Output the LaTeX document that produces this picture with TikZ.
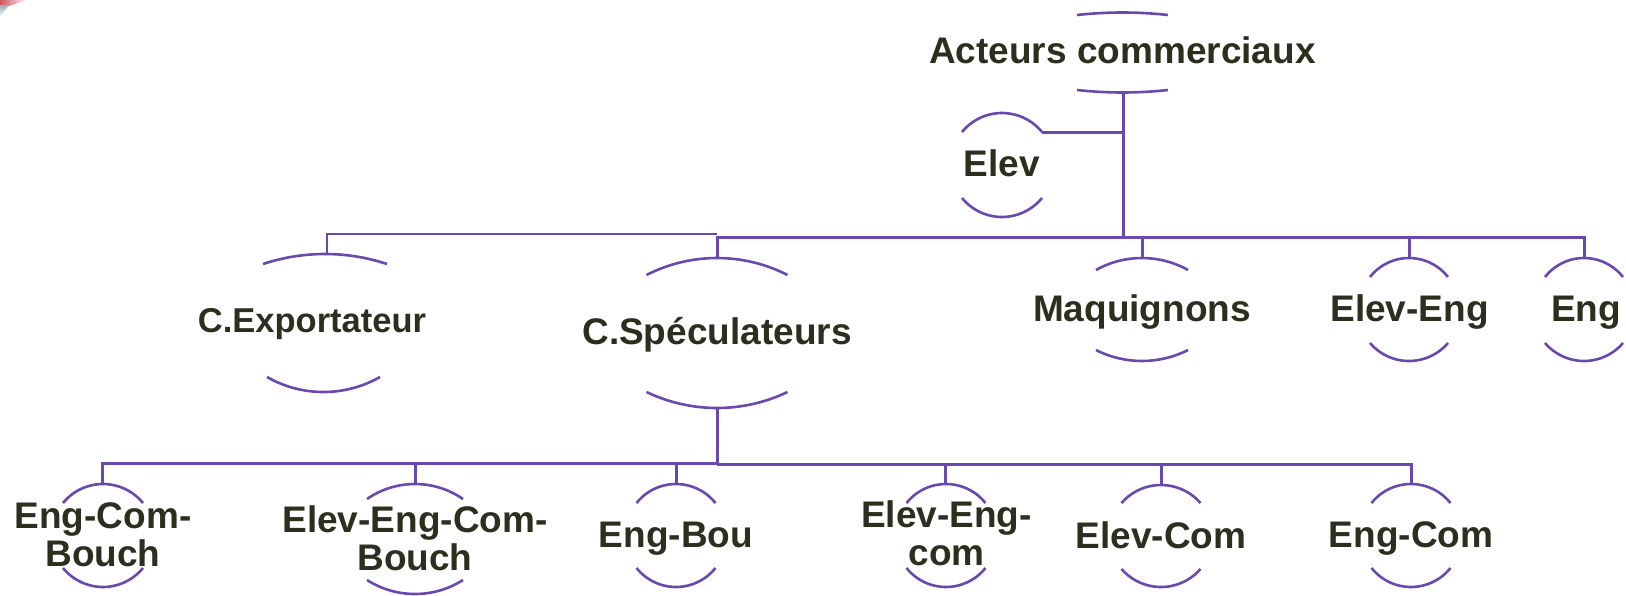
\documentclass[tikz,border=0pt]{standalone}
\usepackage{fontspec}
\setmainfont{Liberation Sans}
\definecolor{purp}{RGB}{106,72,176}
\definecolor{txt}{RGB}{46,46,30}
\newcommand\uparc[4]{%
  \pgfmathsetmacro\arcR{((#3)*(#3)+(#4)*(#4))/(2*(#4))}%
  \pgfmathsetmacro\arcA{asin((#3)/\arcR)}%
  \draw[arcline] (#1-#3,-#2-#4) arc[start angle=90+\arcA, end angle=90-\arcA, radius=\arcR];}
\newcommand\downarc[4]{%
  \pgfmathsetmacro\arcR{((#3)*(#3)+(#4)*(#4))/(2*(#4))}%
  \pgfmathsetmacro\arcA{asin((#3)/\arcR)}%
  \draw[arcline] (#1-#3,-#2+#4) arc[start angle=270-\arcA, end angle=270+\arcA, radius=\arcR];}
\newcommand\twolines[2]{\begin{tabular}[t]{@{}c@{}}#1\\#2\end{tabular}}
\begin{document}
\begin{tikzpicture}[x=1pt,y=1pt,
  arcline/.style={draw=purp, line width=2.6pt},
  conn/.style={draw=purp, line width=3pt},
  thinconn/.style={draw=purp, line width=2pt},
  lbl/.style={inner sep=0pt, anchor=base, text=txt, font=\fontsize{37}{38}\selectfont\bfseries},
  smalllbl/.style={lbl, font=\fontsize{34.5}{36}\selectfont\bfseries}]
\useasboundingbox (0,0) rectangle (1626,-595);
\fill[white] (0,0) rectangle (1626,-595);
% corner artefact
\shade[left color={rgb,255:red,205;green,85;blue,95}, right color=white] (0,0) -- (28,0) -- (0,-9) -- cycle;
\shade[top color={rgb,255:red,150;green,175;blue,180}, bottom color=white] (0,-5) -- (9,-5) -- (0,-17) -- cycle;

% ---- labels ----
\node[lbl] (act) at (1122.5,-63) {Acteurs commerciaux};
\node[lbl] (elev) at (1002,-176) {Elev};
\node[smalllbl] (exp) at (312,-332) {C.Exportateur};
\node[lbl] (spec) at (717,-344) {C.Spéculateurs};
\node[lbl] (maq) at (1142,-321) {Maquignons};
\node[lbl] (eleveng) at (1409.5,-321) {Elev-Eng};
\node[lbl] (eng) at (1586,-321) {Eng};
\node[lbl] (ecb) at (103,-528) {\twolines{Eng-Com-}{Bouch}};
\node[lbl] (eecb) at (415,-532) {\twolines{Elev-Eng-Com-}{Bouch}};
\node[lbl] (ebou) at (676,-547) {Eng-Bou};
\node[lbl] (eec) at (946.5,-527) {\twolines{Elev-Eng-}{com}};
\node[lbl] (ecom) at (1161,-548) {Elev-Com};
\node[lbl] (engcom) at (1411,-547) {Eng-Com};

% ---- arcs ----
\uparc{1122.5}{12.5}{45.5}{2.5}   \downarc{1122.5}{92.5}{45.5}{2.5}
\uparc{1002}{113}{40}{19}         \downarc{1002}{217}{40}{19}
\uparc{325}{254}{62}{10}          \downarc{323.5}{392}{56.5}{15}
\uparc{717}{258}{70.5}{17}        \downarc{717}{408}{70.5}{16}
\uparc{1142}{258}{46}{12}         \downarc{1142}{361}{46}{11}
\uparc{1409}{258}{39}{19}         \downarc{1409}{361}{39}{18}
\uparc{1584}{258}{39}{19}         \downarc{1584}{361}{39}{18}
\uparc{103}{484}{40}{19}          \downarc{103}{587}{40}{19}
\uparc{415}{484}{48}{15}          \downarc{415}{594}{48}{14}
\uparc{676}{484}{39.5}{19}        \downarc{676}{587}{39.5}{19}
\uparc{946}{484}{39.5}{19}        \downarc{946}{587}{39.5}{19}
\uparc{1161}{485}{39.5}{18}       \downarc{1161}{587}{39.5}{18}
\uparc{1411}{484}{39.5}{19}       \downarc{1411}{587}{39.5}{19}

% ---- connector anchors ----
\coordinate (act-b) at (1123,-92.5);
\coordinate (elev-tr) at (1042,-132);
\coordinate (exp-t) at (326.5,-254);
\coordinate (spec-t) at (717,-258);
\coordinate (spec-b) at (717,-408);
\coordinate (maq-t) at (1142,-258);
\coordinate (eleveng-t) at (1409,-258);
\coordinate (eng-t) at (1584,-258);
\coordinate (ecb-t) at (102,-484);
\coordinate (eecb-t) at (415,-484);
\coordinate (ebou-t) at (676,-484);
\coordinate (eec-t) at (945.5,-484);
\coordinate (ecom-t) at (1161,-485);
\coordinate (engcom-t) at (1411,-484);
\coordinate (topbus) at (1123,-237);
\coordinate (thinbus) at (717,-234);
\coordinate (lowbusL) at (717,-463);
\coordinate (lowbusR) at (717,-464.5);

% ---- connectors ----
\draw[conn] (act-b) -- (topbus);
\draw[conn] (elev-tr) -- (elev-tr -| act-b);
\draw[conn] (topbus) -| (spec-t);
\draw[conn] (topbus) -| (maq-t);
\draw[conn] (topbus) -| (eleveng-t);
\draw[conn] (topbus) -| (eng-t);
\draw[thinconn] (thinbus) -| (exp-t);
\draw[conn] (spec-b) -- (lowbusL);
\draw[conn] (lowbusL) -| (ecb-t);
\draw[conn] (lowbusL) -| (eecb-t);
\draw[conn] (lowbusL) -| (ebou-t);
\draw[conn] (lowbusR) -| (eec-t);
\draw[conn] (lowbusR) -| (ecom-t);
\draw[conn] (lowbusR) -| (engcom-t);
\end{tikzpicture}
\end{document}
